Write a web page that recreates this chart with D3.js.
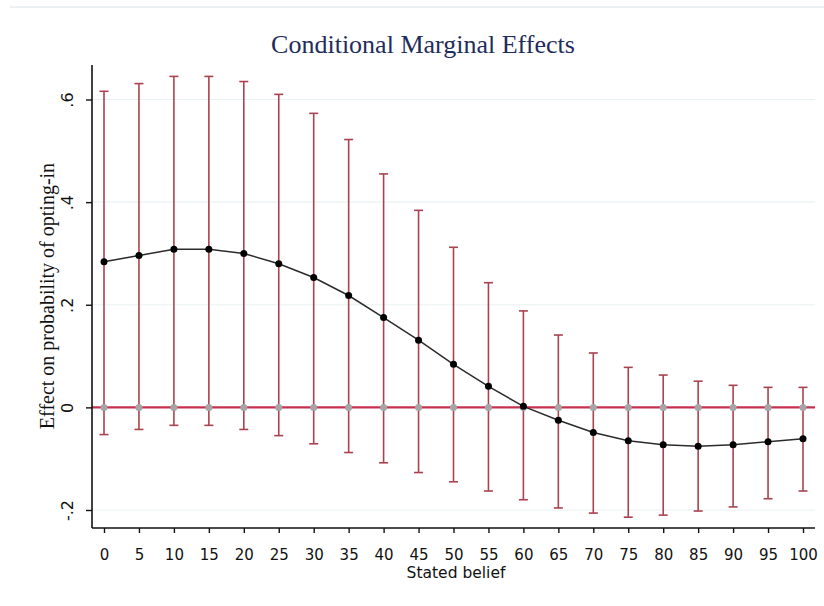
<!DOCTYPE html>
<html>
<head>
<meta charset="utf-8">
<script src="https://cdn.jsdelivr.net/npm/d3@7"></script>
<style>
  body { margin: 0; background: #fff; }
  svg text { font-family: "Liberation Serif", "DejaVu Serif", serif; }
  svg .tick text, svg .sans { font-family: "DejaVu Sans", Verdana, sans-serif; }
</style>
</head>
<body>
<div id="chart"></div>
<script>
// stated belief values
const beliefs = [0, 5, 10, 15, 20, 25, 30, 35, 40, 45, 50, 55, 60, 65, 70, 75, 80, 85, 90, 95, 100];
// marginal effect estimates
const effects = [0.284, 0.296, 0.308, 0.308, 0.300, 0.280, 0.253, 0.218, 0.175, 0.131, 0.084,
  0.041, 0.002, -0.025, -0.049, -0.065, -0.073, -0.076, -0.073, -0.067, -0.061];
// confidence interval bounds
const upper = [0.616, 0.631, 0.645, 0.645, 0.635, 0.610, 0.573, 0.522, 0.455, 0.384, 0.312,
  0.243, 0.188, 0.141, 0.106, 0.078, 0.063, 0.051, 0.043, 0.039, 0.039];
const lower = [-0.053, -0.043, -0.035, -0.035, -0.043, -0.055, -0.071, -0.088, -0.108, -0.127, -0.145,
  -0.163, -0.180, -0.196, -0.206, -0.214, -0.210, -0.202, -0.194, -0.178, -0.163];
const yTicks = [-0.2, 0, 0.2, 0.4, 0.6];
const yTickLabels = ["-.2", "0", ".2", ".4", ".6"];

const data = beliefs.map((b, i) => ({ x: b, y: effects[i], lo: lower[i], hi: upper[i] }));

const width = 824, height = 606;
const plot = { left: 92, right: 815, top: 65, bottom: 528 };

const svg = d3.select("#chart").append("svg")
  .attr("width", width)
  .attr("height", height);

// faint frame line at the top
svg.append("line")
  .attr("x1", 10).attr("x2", width)
  .attr("y1", 7).attr("y2", 7)
  .attr("stroke", "#e6eef0").attr("stroke-width", 1.5);

const x = d3.scaleLinear().domain([0, 100]).range([104, 803]);
const y = d3.scaleLinear().domain([-0.2, 0.6]).range([510, 99.5]);

// grid lines
svg.append("g")
  .selectAll("line")
  .data(yTicks)
  .join("line")
  .attr("x1", plot.left).attr("x2", plot.right)
  .attr("y1", d => y(d)).attr("y2", d => y(d))
  .attr("stroke", "#eaf1f4").attr("stroke-width", 1.2);

// zero reference line
svg.append("line")
  .attr("x1", plot.left).attr("x2", plot.right)
  .attr("y1", y(0)).attr("y2", y(0))
  .attr("stroke", "#c8304f").attr("stroke-width", 2.2);

// error bars
const errColor = "#a9434f";
const capW = 4.5;
const bars = svg.append("g").attr("stroke", errColor).attr("stroke-width", 1.6);
bars.selectAll("line.v")
  .data(data)
  .join("line")
  .attr("class", "v")
  .attr("x1", d => x(d.x)).attr("x2", d => x(d.x))
  .attr("y1", d => y(d.lo)).attr("y2", d => y(d.hi));
bars.selectAll("line.top")
  .data(data)
  .join("line")
  .attr("class", "top")
  .attr("x1", d => x(d.x) - capW).attr("x2", d => x(d.x) + capW)
  .attr("y1", d => y(d.hi)).attr("y2", d => y(d.hi));
bars.selectAll("line.bot")
  .data(data)
  .join("line")
  .attr("class", "bot")
  .attr("x1", d => x(d.x) - capW).attr("x2", d => x(d.x) + capW)
  .attr("y1", d => y(d.lo)).attr("y2", d => y(d.lo));

// gray markers on zero line
svg.append("g")
  .selectAll("circle")
  .data(data)
  .join("circle")
  .attr("cx", d => x(d.x))
  .attr("cy", y(0))
  .attr("r", 3.5)
  .attr("fill", "#a5a5a5");

// effect line
svg.append("path")
  .datum(data)
  .attr("fill", "none")
  .attr("stroke", "#2b2b2b")
  .attr("stroke-width", 1.5)
  .attr("d", d3.line().x(d => x(d.x)).y(d => y(d.y)));

svg.append("g")
  .selectAll("circle")
  .data(data)
  .join("circle")
  .attr("cx", d => x(d.x))
  .attr("cy", d => y(d.y))
  .attr("r", 3.5)
  .attr("fill", "#000");

// axes
const xAxis = d3.axisBottom(x).tickValues(beliefs).tickSize(5).tickPadding(6).tickFormat(d3.format("d"));
const gx = svg.append("g")
  .attr("transform", `translate(0,${plot.bottom})`)
  .call(xAxis);
gx.select(".domain").attr("d", `M${plot.left},0H${plot.right}`).attr("stroke", "#111").attr("stroke-width", 1.6);
gx.selectAll(".tick line").attr("stroke", "#111").attr("stroke-width", 1.4);
gx.selectAll(".tick text")
  .attr("fill", "#111")
  .style("font-size", "15px")
  .attr("y", 32).attr("dy", 0);

const yAxis = d3.axisLeft(y).tickValues(yTicks).tickSize(6).tickFormat((d, i) => yTickLabels[i]);
const gy = svg.append("g")
  .attr("transform", `translate(${plot.left},0)`)
  .call(yAxis);
gy.select(".domain").attr("d", `M0,${plot.top}V${plot.bottom}`).attr("stroke", "#111").attr("stroke-width", 1.6);
gy.selectAll(".tick line").attr("stroke", "#111").attr("stroke-width", 1.4);
gy.selectAll(".tick text")
  .attr("fill", "#111")
  .style("font-size", "16px")
  .attr("x", 0).attr("dy", 0)
  .attr("text-anchor", "middle")
  .attr("transform", "translate(-19,0) rotate(-90)");

// labels
svg.append("text")
  .attr("x", 423).attr("y", 53)
  .attr("text-anchor", "middle")
  .attr("fill", "#1f2d5c")
  .style("font-size", "26px")
  .text("Conditional Marginal Effects");

svg.append("text")
  .attr("class", "sans")
  .attr("x", 456).attr("y", 578)
  .attr("text-anchor", "middle")
  .attr("fill", "#111")
  .style("font-size", "15.5px")
  .text("Stated belief");

svg.append("text")
  .attr("transform", "translate(54,296) rotate(-90)")
  .attr("text-anchor", "middle")
  .attr("fill", "#111")
  .style("font-size", "20px")
  .text("Effect on probability of opting-in");
</script>
</body>
</html>
